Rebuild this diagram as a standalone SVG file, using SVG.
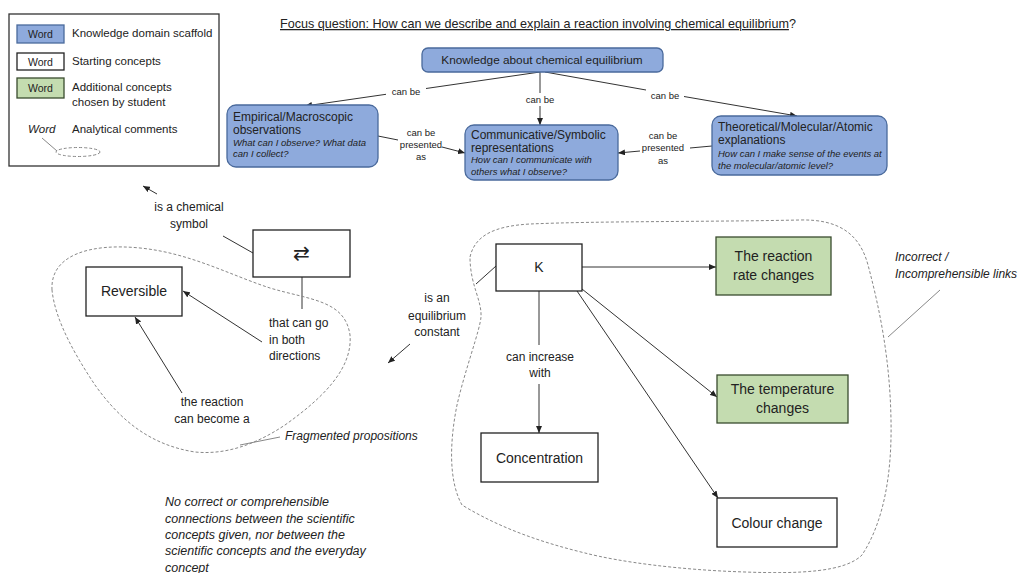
<svg xmlns="http://www.w3.org/2000/svg" width="1021" height="573" viewBox="0 0 1021 573">
<style>
text{font-family:"Liberation Sans",Arial,sans-serif;fill:#222}
.t12{font-size:12px}
.lab{font-size:9.5px}
.it{font-style:italic}
.blue{fill:#8eaadc;stroke:#4a6a9c;stroke-width:1.3}
.green{fill:#c4dcb0;stroke:#3a4c2e;stroke-width:1.3}
.white{fill:#fff;stroke:#222;stroke-width:1.3}
.ln{fill:none;stroke:#333;stroke-width:1}
.dash{fill:none;stroke:#888;stroke-width:1;stroke-dasharray:3 2}
.c{text-anchor:middle}
</style>
<defs>
<marker id="ah" markerWidth="7" markerHeight="6" refX="7" refY="3" orient="auto" markerUnits="userSpaceOnUse"><path d="M0,0 L7,3 L0,6 z" fill="#222"/></marker>
</defs>
<rect width="1021" height="573" fill="#fff"/>

<g id="legend">
<rect x="9" y="14" width="210" height="152" fill="#fff" stroke="#333" stroke-width="1.3"/>
<rect x="17" y="25" width="47" height="18" class="blue"/>
<text x="40.5" y="38" class="c" font-size="10.5">Word</text>
<text x="72" y="37" font-size="11.5">Knowledge domain scaffold</text>
<rect x="17" y="53" width="47" height="17" class="white"/>
<text x="40.5" y="65.5" class="c" font-size="10.5">Word</text>
<text x="72" y="65" font-size="11.5">Starting concepts</text>
<rect x="17" y="78" width="47" height="20" class="green"/>
<text x="40.5" y="92" class="c" font-size="10.5">Word</text>
<text x="72" y="91" font-size="11.5">Additional concepts</text>
<text x="72" y="106" font-size="11.5">chosen by student</text>
<text x="28" y="133" class="it" font-size="11.5">Word</text>
<text x="72" y="133" font-size="11.5">Analytical comments</text>
<line x1="42" y1="138" x2="57" y2="151" stroke="#888" stroke-width="1"/>
<ellipse cx="78" cy="152" rx="22" ry="4.5" class="dash"/>
</g>

<g id="focus">
<text x="280" y="28" font-size="12.6"><tspan text-decoration="underline">Focus question: How can we describe and explain a reaction involving chemical equilibrium</tspan>?</text>
</g>

<g id="connectors">
<line x1="540" y1="72" x2="426" y2="88.5" class="ln"/>
<line x1="386" y1="94.3" x2="305" y2="106" class="ln" marker-end="url(#ah)"/>
<line x1="540" y1="72" x2="540" y2="93" class="ln"/>
<line x1="540" y1="106" x2="540" y2="125" class="ln" marker-end="url(#ah)"/>
<line x1="545" y1="72" x2="646" y2="90" class="ln"/>
<line x1="684" y1="96.5" x2="797" y2="116" class="ln" marker-end="url(#ah)"/>
<line x1="378" y1="136" x2="398" y2="140" class="ln"/>
<line x1="442" y1="147" x2="465" y2="153" class="ln" marker-end="url(#ah)"/>
<line x1="712" y1="146" x2="690" y2="148" class="ln"/>
<line x1="640" y1="151" x2="618" y2="153" class="ln" marker-end="url(#ah)"/>
<line x1="157" y1="194" x2="143" y2="186" class="ln" marker-end="url(#ah)"/>
<line x1="223" y1="236" x2="253" y2="253" class="ln"/>
<line x1="302" y1="277" x2="302" y2="309" class="ln"/>
<line x1="262" y1="342" x2="183" y2="291" class="ln" marker-end="url(#ah)"/>
<line x1="182" y1="393" x2="135" y2="317" class="ln" marker-end="url(#ah)"/>
<line x1="496" y1="266" x2="476" y2="284" class="ln"/>
<line x1="410" y1="344" x2="388" y2="363" class="ln" marker-end="url(#ah)"/>
<line x1="582" y1="267" x2="716" y2="267" class="ln" marker-end="url(#ah)"/>
<line x1="582" y1="289" x2="717" y2="397" class="ln" marker-end="url(#ah)"/>
<line x1="577" y1="291" x2="718" y2="498" class="ln" marker-end="url(#ah)"/>
<line x1="539" y1="291" x2="539" y2="345" class="ln"/>
<line x1="539" y1="384" x2="539" y2="433" class="ln" marker-end="url(#ah)"/>
</g>

<g id="comments">
<path class="dash" d="M52,290 C50,255 90,243 140,248 C190,253 230,275 270,288 C310,300 345,300 350,335 C353,370 320,400 285,425 C255,445 225,455 195,452 C150,445 120,420 95,385 C75,355 55,320 52,290 Z"/>
<line x1="240" y1="445" x2="280" y2="437" stroke="#888" stroke-width="1"/>
<text x="285" y="440" class="t12 it">Fragmented propositions</text>
<path class="dash" d="M470,257 C475,235 495,226 530,224 C600,221 700,222 800,220 C840,219 860,235 868,265 C880,310 890,360 891,420 C892,470 885,520 862,555 C845,572 800,574 745,572 C680,570 620,562 585,553 C540,542 500,528 462,505 C448,480 450,440 457,405 C465,370 480,330 481,317 C482,300 470,285 470,257 Z"/>
<line x1="940" y1="290" x2="888" y2="337" stroke="#888" stroke-width="1"/>
<text x="895" y="261" class="t12 it">Incorrect /</text>
<text x="895" y="278" class="t12 it">Incomprehensible links</text>
<text class="it" font-size="12.5"><tspan x="165" y="506">No correct or comprehensible</tspan><tspan x="165" y="523">connections between the scientific</tspan><tspan x="165" y="539">concepts given, nor between the</tspan><tspan x="165" y="555">scientific concepts and the everyday</tspan><tspan x="165" y="572">concept</tspan></text>
</g>

<g id="labels">
<text x="406" y="95" class="lab c">can be</text>
<text x="540" y="103" class="lab c">can be</text>
<text x="665" y="99" class="lab c">can be</text>
<text class="lab c"><tspan x="421" y="136">can be</tspan><tspan x="421" y="148">presented</tspan><tspan x="421" y="160">as</tspan></text>
<text class="lab c"><tspan x="663" y="139">can be</tspan><tspan x="663" y="151">presented</tspan><tspan x="663" y="164">as</tspan></text>
<text class="t12 c"><tspan x="189" y="211">is a chemical</tspan><tspan x="189" y="228">symbol</tspan></text>
<text class="t12"><tspan x="269" y="327">that can go</tspan><tspan x="269" y="344">in both</tspan><tspan x="269" y="360">directions</tspan></text>
<text class="t12 c"><tspan x="212" y="406">the reaction</tspan><tspan x="212" y="423">can become a</tspan></text>
<text class="t12 c"><tspan x="437" y="302">is an</tspan><tspan x="437" y="320">equilibrium</tspan><tspan x="437" y="336">constant</tspan></text>
<text class="t12 c"><tspan x="540" y="361">can increase</tspan><tspan x="540" y="377">with</tspan></text>
</g>

<g id="n-knowledge">
<rect x="422" y="48" width="241" height="24" rx="6" class="blue"/>
<text x="542" y="64" class="c" font-size="11.8">Knowledge about chemical equilibrium</text>
</g>
<g id="n-empirical">
<rect x="227" y="105" width="151" height="62" rx="9" class="blue"/>
<text x="233" y="121" class="t12">Empirical/Macroscopic</text>
<text x="233" y="134" class="t12">observations</text>
<text x="233" y="146" class="lab it">What can I observe? What data</text>
<text x="233" y="157" class="lab it">can I collect?</text>
</g>
<g id="n-communicative">
<rect x="465" y="125" width="153" height="55" rx="9" class="blue"/>
<text x="471" y="139" class="t12">Communicative/Symbolic</text>
<text x="471" y="152" class="t12">representations</text>
<text x="471" y="163" class="lab it">How can I communicate with</text>
<text x="471" y="175" class="lab it">others what I observe?</text>
</g>
<g id="n-theoretical">
<rect x="712" y="116" width="175" height="59" rx="9" class="blue"/>
<text x="718" y="131" class="t12">Theoretical/Molecular/Atomic</text>
<text x="718" y="144" class="t12">explanations</text>
<text x="718" y="157" class="lab it">How can I make sense of the events at</text>
<text x="718" y="169" class="lab it">the molecular/atomic level?</text>
</g>
<g id="n-symbol">
<rect x="253" y="230" width="97" height="47" class="white"/>
<text x="301.5" y="260" class="c" font-size="20" style="font-family:'DejaVu Sans',sans-serif">⇄</text>
</g>
<g id="n-reversible">
<rect x="86" y="267" width="96" height="49" class="white"/>
<text x="134" y="296" class="c" font-size="14">Reversible</text>
</g>
<g id="n-k">
<rect x="496" y="244" width="86" height="47" class="white"/>
<text x="539" y="272" class="c" font-size="14">K</text>
</g>
<g id="n-rate">
<rect x="716" y="237" width="115" height="58" class="green"/>
<text x="773.5" y="261" class="c" font-size="14">The reaction</text>
<text x="773.5" y="280" class="c" font-size="14">rate changes</text>
</g>
<g id="n-temp">
<rect x="717" y="375" width="131" height="48" class="green"/>
<text x="782.5" y="394" class="c" font-size="14">The temperature</text>
<text x="782.5" y="413" class="c" font-size="14">changes</text>
</g>
<g id="n-conc">
<rect x="481" y="433" width="117" height="49" class="white"/>
<text x="539.5" y="463" class="c" font-size="14">Concentration</text>
</g>
<g id="n-colour">
<rect x="717" y="498" width="120" height="49" class="white"/>
<text x="777" y="528" class="c" font-size="14">Colour change</text>
</g>
</svg>
